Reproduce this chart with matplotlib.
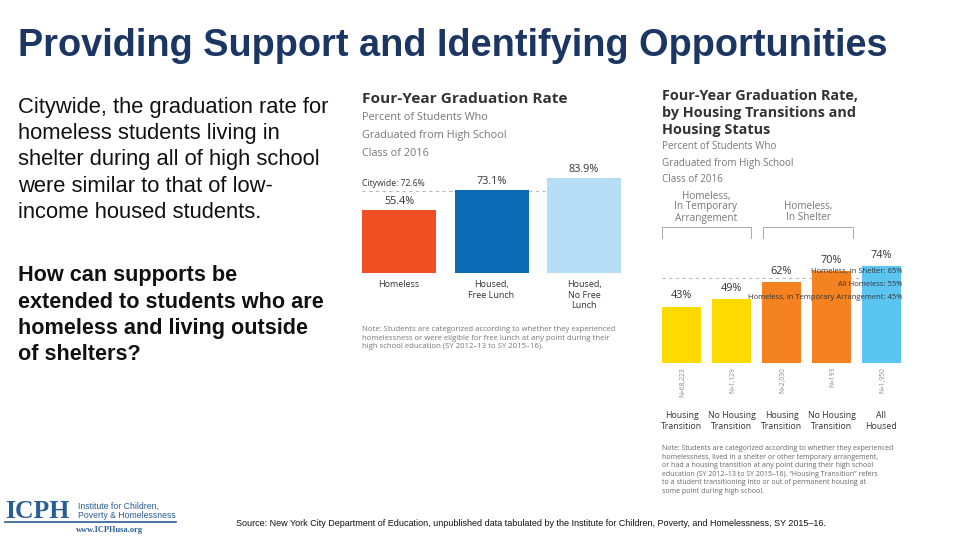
import matplotlib
matplotlib.use("Agg")
import matplotlib.pyplot as plt

W, H = 960, 540

# chart 1: graduation rate by housing status
cat1 = ["Homeless", "Housed,\nFree Lunch", "Housed,\nNo Free\nLunch"]
val1 = [55.4, 73.1, 83.9]
lab1 = ["55.4%", "73.1%", "83.9%"]
col1 = ["#F04E23", "#0B6BB5", "#B6DEF6"]
citywide = 72.6

# chart 2: by housing transitions and status
cat2 = ["Housing\nTransition", "No Housing\nTransition", "Housing\nTransition",
        "No Housing\nTransition", "All\nHoused"]
val2 = [43, 49, 62, 70, 74]
n2 = ["N=68,223", "N=1,129", "N=2,030", "N=193", "N=1,950"]
col2 = ["#FDDA00", "#FDDA00", "#F58220", "#F58220", "#5BC5F2"]
refs = [("Homeless, in Shelter: 65%", 65),
        ("All Homeless: 55%", 55),
        ("Homeless, in Temporary Arrangement: 45%", 45)]

SLIDE = "Liberation Sans"
CH = "Open Sans"


def px(x, y):
    return x / W, 1 - y / H


def ftext(x, y, s, **kw):
    kw.setdefault("family", SLIDE)
    fig.text(*px(x, y), s, **kw)


fig = plt.figure(figsize=(9.6, 5.4), dpi=100)

# slide title and left text
ftext(18, 46, "Providing Support and Identifying Opportunities", fontsize=27.3,
      weight="bold", color="#1C3664", va="center")
para1 = ["Citywide, the graduation rate for", "homeless students living in",
         "shelter during all of high school", "were similar to that of low-",
         "income housed students."]
for i, s in enumerate(para1):
    ftext(18, 107 + i * 26.5, s, fontsize=15.8, va="center", color="#111111")
para2 = ["How can supports be", "extended to students who are",
         "homeless and living outside", "of shelters?"]
for i, s in enumerate(para2):
    ftext(18, 276 + i * 26.3, s, fontsize=15.6, va="center", weight="bold",
          color="#111111")

# ---- chart 1 ----
ax1 = fig.add_axes([362 / W, (H - 273) / H, 259 / W, 113 / H])
x1 = range(len(val1))
ax1.bar(x1, val1, width=0.8, color=col1)
ax1.set_xlim(-0.4, 2.4)
ax1.set_ylim(0, 100)
ax1.axhline(citywide, color="#BBBBBB", lw=0.8, ls=(0, (3, 3)), zorder=0)
for i, v in enumerate(val1):
    ax1.text(i, v + 3, lab1[i], ha="center", va="bottom", fontsize=7.8,
             color="#333333", family=CH)
    ax1.text(i, -6, cat1[i], ha="center", va="top", fontsize=6.5,
             color="#333333", family=CH, linespacing=1.25)
ax1.text(-0.4, citywide + 3, f"Citywide: {citywide}%", ha="left",
         va="bottom", fontsize=6.2, color="#333333", family=CH)
ax1.axis("off")

ftext(362, 99, "Four-Year Graduation Rate", fontsize=11.1, weight="bold",
      color="#333333", family=CH, va="center")
for i, s in enumerate(["Percent of Students Who", "Graduated from High School",
                       "Class of 2016"]):
    ftext(362, 118 + i * 17.5, s, fontsize=7.8, color="#777777", family=CH,
          va="center")
ftext(362, 338, "Note: Students are categorized according to whether they "
      "experienced\nhomelessness or were eligible for free lunch at any point "
      "during their\nhigh school education (SY 2012\u201313 to SY 2015\u201316).",
      fontsize=5.55, color="#777777", family=CH, va="center", linespacing=1.3)

# ---- chart 2 ----
ax2 = fig.add_axes([661.5 / W, (H - 363) / H, 240 / W, 131 / H])
x2 = range(len(val2))
ax2.bar(x2, val2, width=0.79, color=col2, zorder=2)
ax2.set_xlim(-0.4, 4.4)
ax2.set_ylim(0, 100)
ax2.axhline(refs[0][1], color="#BBBBBB", lw=0.8, ls=(0, (3, 3)), zorder=1)
for i, v in enumerate(val2):
    ax2.text(i, v + 4, f"{v}%", ha="center", va="bottom", fontsize=7.8,
             color="#333333", family=CH, zorder=3)
    ax2.text(i + 0.02, -3, n2[i], ha="center", va="top", rotation=90,
             fontsize=4.8, color="#888888", family=CH)
    ax2.text(i, -37, cat2[i], ha="center", va="top", fontsize=6.3,
             color="#333333", family=CH, linespacing=1.2)
for s, v in refs:
    ax2.text(4.42, v + 2.5, s, ha="right", va="bottom", fontsize=5.5,
             color="#333333", family=CH, zorder=4)
ax2.axis("off")

for i, s in enumerate(["Four-Year Graduation Rate,",
                       "by Housing Transitions and", "Housing Status"]):
    ftext(662, 96 + i * 17, s, fontsize=10.4, weight="bold", color="#333333",
          family=CH, va="center")
for i, s in enumerate(["Percent of Students Who", "Graduated from High School",
                       "Class of 2016"]):
    ftext(662, 147 + i * 16.5, s, fontsize=7.1, color="#777777", family=CH,
          va="center")
ftext(706, 207, "Homeless,\nIn Temporary\nArrangement", fontsize=7.2,
      color="#777777", family=CH, va="center", ha="center", linespacing=1.0)
ftext(808, 212, "Homeless,\nIn Shelter", fontsize=7.2, color="#777777",
      family=CH, va="center", ha="center", linespacing=1.0)
for xa, xb in [(662, 751), (763, 853)]:
    fig.add_artist(plt.Line2D([xa / W, xa / W, xb / W, xb / W],
                              [1 - 238 / H, 1 - 227 / H, 1 - 227 / H,
                               1 - 238 / H], color="#AAAAAA", lw=0.7))
ftext(662, 470, "Note: Students are categorized according to whether they "
      "experienced\nhomelessness, lived in a shelter or other temporary "
      "arrangement,\nor had a housing transition at any point during their "
      "high school\neducation (SY 2012\u201313 to SY 2015\u201316). \u201cHousing "
      "Transition\u201d refers\nto a student transitioning into or out of "
      "permanent housing at\nsome point during high school.",
      fontsize=5.0, color="#666666", family=CH, va="center", linespacing=1.3)

# logo and source
ftext(5, 511, "ICPH", fontsize=18.5, weight="bold", color="#2A5D95",
      family="Liberation Serif", va="center")
ftext(78, 511, "Institute for Children,\nPoverty & Homelessness", fontsize=6.3,
      color="#2A5D95", va="center", linespacing=1.0)
fig.add_artist(plt.Line2D([5 / W, 176 / W], [1 - 522 / H, 1 - 522 / H],
                          color="#2A5D95", lw=1.2))
ftext(109, 530, "www.ICPHusa.org", fontsize=6, weight="bold",
      color="#2A5D95", family="Liberation Serif", va="center", ha="center")
ftext(236, 523, "Source: New York City Department of Education, unpublished "
      "data tabulated by the Institute for Children, Poverty, and "
      "Homelessness, SY 2015\u201316.", fontsize=6.5, color="#111111",
      va="center")

fig.savefig("out.png", dpi=100)
